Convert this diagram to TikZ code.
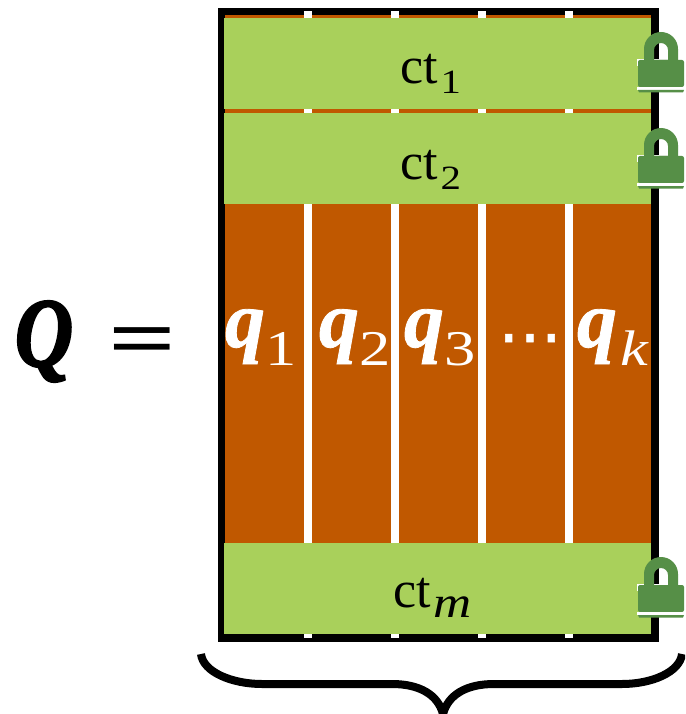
\documentclass[tikz,border=0pt]{standalone}
\usepackage{fontspec}
\setmainfont{Liberation Serif}
\newfontfamily\symfont[FakeBold=1]{DejaVu Sans}
\newfontfamily\heavyfont[FakeBold=2.5]{Liberation Serif Bold Italic}
\newfontfamily\qfont[FakeBold=1]{Liberation Serif Bold Italic}
\definecolor{rust}{HTML}{C05800}
\definecolor{leaf}{HTML}{A9D05B}
\definecolor{lockgreen}{HTML}{568F47}
\newcommand{\bigq}[1]{{\fontsize{80}{80}\selectfont\qfont q}\raisebox{-18pt}{\fontsize{50}{50}\selectfont\scalebox{1.25}[1]{#1}}}
\newcommand{\ctlabel}[2]{{\fontsize{52}{52}\selectfont ct}\hspace{3pt}\raisebox{-10pt}{\fontsize{#1}{#1}\selectfont\scalebox{1.2}[1]{#2}}}
\tikzset{
  x=1pt,y=-1pt,
  lbl/.style={inner sep=0pt,outer sep=0pt,anchor=base west},
  qlabel/.style={lbl,text=white},
  band/.style={fill=leaf,draw=none},
  divider/.style={fill=white,draw=none},
  padlock/.pic={
    \fill[white] (-1,27) rectangle (47,34);
    \fill[lockgreen,even odd rule]
      (6,28) -- (6,17) arc[start angle=180,end angle=360,x radius=17,y radius=17] -- (40,28) -- cycle
      (16,28) -- (16,18) arc[start angle=180,end angle=360,x radius=7,y radius=7] -- (30,28) -- cycle;
    \fill[lockgreen,rounded corners=2pt] (0,28) rectangle (46,55);
    \fill[white] (-1,55) rectangle (47,58);
    \fill[lockgreen] (0,58) -- (46,58) -- (45,60.5) -- (1,60.5) -- cycle;
  }
}
\begin{document}
\begin{tikzpicture}
\clip (0,0) rectangle (685,714);
\fill[white] (0,0) rectangle (685,714);
% frame and body
\fill[black] (218,8) rectangle (659,642);
\fill[rust] (225,15) rectangle (651,634);
% column dividers
\foreach \dx in {304,391,478,565}
  \fill[divider] (\dx,11) rectangle ++(8,627);
% ciphertext bands
\fill[band] (224,18) rectangle (651,109);
\fill[band] (224,113) rectangle (651,204);
\fill[band] (224,543) rectangle (651,634);
% labels
\node[lbl] (ctone) at (400,84) {\ctlabel{34}{1}};
\node[lbl] (cttwo) at (400,179) {\ctlabel{34}{2}};
\node[lbl] (ctm) at (393,607) {\ctlabel{44}{\itshape m}};
\node[qlabel] (qone) at (225,347) {\bigq{1}};
\node[qlabel] (qtwo) at (319,347) {\bigq{2}};
\node[qlabel] (qthree) at (404,347) {\bigq{3}};
\node[qlabel] (qdots) at (498,358) {\fontsize{64}{64}\selectfont\symfont ⋯};
\node[qlabel] (qk) at (577,347) {\bigq{\hspace{3pt}\itshape k}};
\node[lbl,xscale=0.82] (bigQ) at (15,366) {\fontsize{98}{98}\selectfont\heavyfont Q};
\node[lbl,xscale=1.15,yscale=0.8] (eq) at (108,366) {\fontsize{104}{104}\selectfont\bfseries =};
% locks
\pic at (638,32) {padlock};
\pic at (638,128) {padlock};
\pic at (638,557) {padlock};
% brace
\draw[line width=8pt] (201,654) .. controls (203,672) and (232,684) .. (262,684)
  -- (392,684) .. controls (420,684) and (438,695) .. (443,714)
  .. controls (448,695) and (466,684) .. (494,684)
  -- (622,684) .. controls (652,684) and (680,672) .. (682,654);
\end{tikzpicture}
\end{document}
